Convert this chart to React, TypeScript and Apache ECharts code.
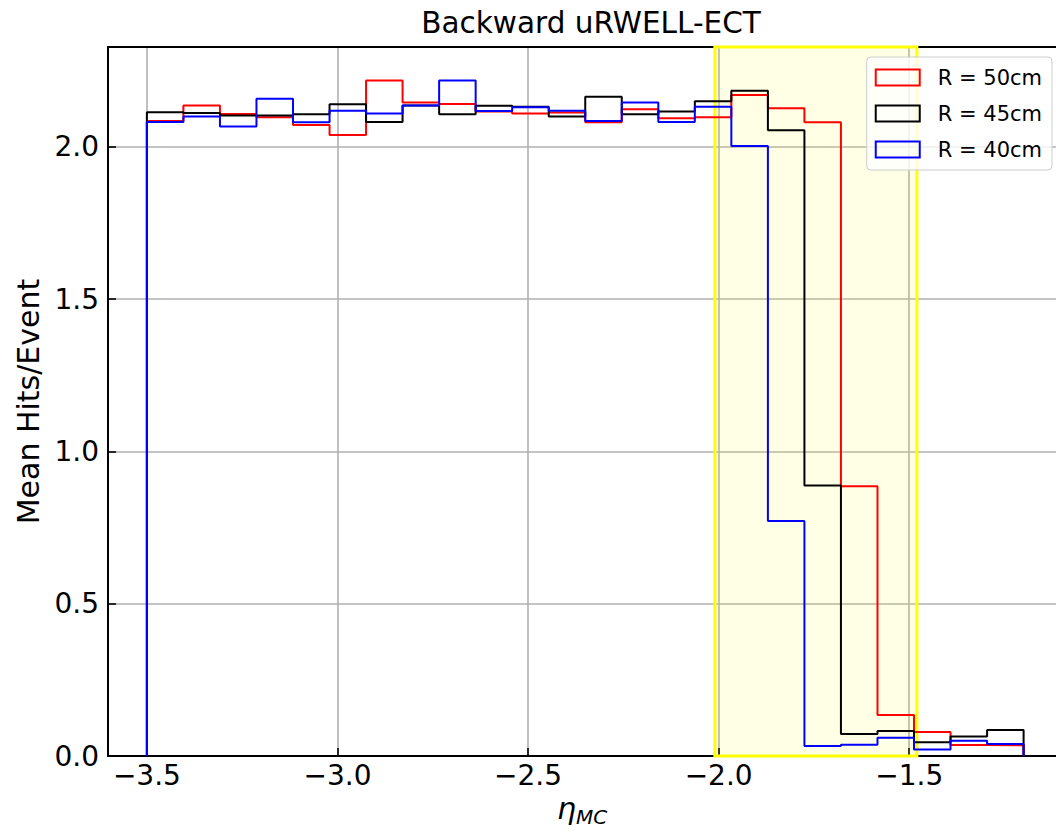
import React, { useEffect, useRef } from 'react';
import * as echarts from 'echarts';

const binEdges = [
  -3.5, -3.4042, -3.3083, -3.2125, -3.1167, -3.0208, -2.925, -2.8292, -2.7333,
  -2.6375, -2.5417, -2.4458, -2.35, -2.2542, -2.1583, -2.0625, -1.9667, -1.8708,
  -1.775, -1.6792, -1.5833, -1.4875, -1.3917, -1.2958, -1.2,
];
const r50 = [
  2.085, 2.136, 2.108, 2.097, 2.072, 2.039, 2.218, 2.146, 2.141, 2.116, 2.11, 2.113,
  2.081, 2.124, 2.094, 2.097, 2.17, 2.127, 2.081, 0.886, 0.135, 0.079, 0.036, 0.035,
];
const r45 = [
  2.114, 2.111, 2.103, 2.103, 2.107, 2.14, 2.082, 2.136, 2.107, 2.135, 2.132, 2.1,
  2.165, 2.107, 2.116, 2.15, 2.184, 2.055, 0.888, 0.072, 0.082, 0.045, 0.064, 0.085,
];
const r40 = [
  2.082, 2.1, 2.067, 2.158, 2.081, 2.119, 2.11, 2.136, 2.218, 2.118, 2.13, 2.119,
  2.085, 2.146, 2.082, 2.132, 2.003, 0.772, 0.033, 0.037, 0.06, 0.021, 0.05, 0.039,
];
const xTicks = [-3.5, -3.0, -2.5, -2.0, -1.5];
const seriesNames = ['R = 50cm', 'R = 45cm', 'R = 40cm'];
const seriesColors = ['#ff0000', '#000000', '#0000ff'];
const seriesValues = [r50, r45, r40];
const highlightBand = [-2.01, -1.48];
const xRange = [-3.602, -1.115];
const yRange = [0, 2.328];

const FONT = 'DejaVu Sans';

function stepPoints(edges: number[], values: number[]) {
  const pts: number[][] = [[edges[0], 0]];
  values.forEach((v, i) => {
    pts.push([edges[i], v]);
    pts.push([edges[i + 1], v]);
  });
  pts.push([edges[edges.length - 1], 0]);
  return pts;
}

const fmt = (v: number) => v.toFixed(1).replace('-', '\u2212');

export default function App() {
  const ref = useRef<HTMLDivElement>(null);
  useEffect(() => {
    if (!ref.current) return;
    const chart = echarts.init(ref.current, undefined, { renderer: 'svg' });
    const gridLine = { show: true, lineStyle: { color: '#b0b0b0', width: 1.6 } };
    const option: any = {
      animation: false,
      backgroundColor: '#ffffff',
      title: {
        text: 'Backward uRWELL-ECT',
        left: 586,
        top: 3,
        textAlign: 'center',
        textStyle: { fontFamily: FONT, fontSize: 29.5, fontWeight: 'normal', color: '#000' },
      },
      legend: {
        orient: 'vertical',
        right: 4,
        top: 57,
        icon: 'rect',
        itemWidth: 44,
        itemHeight: 16,
        itemGap: 15,
        padding: [10, 10, 10, 8],
        backgroundColor: 'rgba(255,255,255,0.8)',
        borderColor: '#cccccc',
        borderWidth: 1,
        borderRadius: 4,
        z: 3,
        textStyle: { fontFamily: FONT, fontSize: 21, color: '#000', lineHeight: 16, padding: [0, 0, 0, 13] },
        data: seriesNames.map((n, i) => ({
          name: n,
          icon: 'rect',
          itemStyle: { color: 'rgba(0,0,0,0)', borderColor: seriesColors[i], borderWidth: 2 },
        })),
      },
      grid: { left: 108, top: 47, width: 948, height: 709, containLabel: false, outerBoundsMode: 'none' },
      xAxis: [
        {
          type: 'value',
          min: xRange[0],
          max: xRange[1],
          name: '{a|η}{b|MC}',
          nameLocation: 'middle',
          nameGap: 37,
          nameTextStyle: {
            rich: {
              a: { fontFamily: FONT, fontSize: 30, fontStyle: 'italic', color: '#000', lineHeight: 28 },
              b: { fontFamily: FONT, fontSize: 20, fontStyle: 'italic', color: '#000', lineHeight: 28, verticalAlign: 'bottom', padding: [0, 0, -4, 0] },
            },
          },
          axisLine: { show: true, onZero: false, lineStyle: { color: '#000', width: 2 } },
          axisTick: { show: true, inside: true, length: 8, customValues: xTicks, lineStyle: { color: '#000', width: 1.6 } },
          axisLabel: {
            customValues: xTicks,
            formatter: (v: number) => fmt(v),
            fontFamily: FONT,
            fontSize: 28,
            color: '#000',
            margin: 5,
          },
          splitLine: gridLine,
        },
        {
          type: 'value',
          position: 'top',
          min: xRange[0],
          max: xRange[1],
          axisLine: { show: true, onZero: false, lineStyle: { color: '#000', width: 2 } },
          axisTick: { show: false },
          axisLabel: { show: false },
          splitLine: { show: false },
        },
      ],
      yAxis: {
        type: 'value',
        min: yRange[0],
        max: yRange[1],
        interval: 0.5,
        name: 'Mean Hits/Event',
        nameLocation: 'middle',
        nameGap: 62,
        nameTextStyle: { fontFamily: FONT, fontSize: 30, color: '#000' },
        axisLine: { show: true, onZero: false, lineStyle: { color: '#000', width: 2 } },
        axisTick: { show: true, inside: true, length: 8, lineStyle: { color: '#000', width: 1.6 } },
        axisLabel: {
          formatter: (v: number) => fmt(v),
          fontFamily: FONT,
          fontSize: 28,
          color: '#000',
          margin: 9,
          showMaxLabel: false,
        },
        splitLine: gridLine,
      },
      series: [
        ...seriesNames.map((n, i) => ({
          name: n,
          type: 'line',
          xAxisIndex: 0,
          data: stepPoints(binEdges, seriesValues[i]),
          showSymbol: false,
          symbol: 'none',
          z: 2 + i,
          lineStyle: { color: seriesColors[i], width: 2 },
          itemStyle: { color: seriesColors[i] },
        })),
        {
          name: 'band',
          type: 'line',
          xAxisIndex: 0,
          data: [],
          z: 10,
          silent: true,
          markArea: {
            silent: true,
            itemStyle: { color: 'rgba(255,255,0,0.1)', borderColor: '#ffff00', borderWidth: 3 },
            data: [[{ xAxis: highlightBand[0], yAxis: yRange[0] }, { xAxis: highlightBand[1], yAxis: yRange[1] }]],
          },
        },
      ],
    };
    chart.setOption(option);
    return () => chart.dispose();
  }, []);
  return <div ref={ref} style={{ position: 'fixed', left: 0, top: 0, width: 1056, height: 834 }} />;
}
